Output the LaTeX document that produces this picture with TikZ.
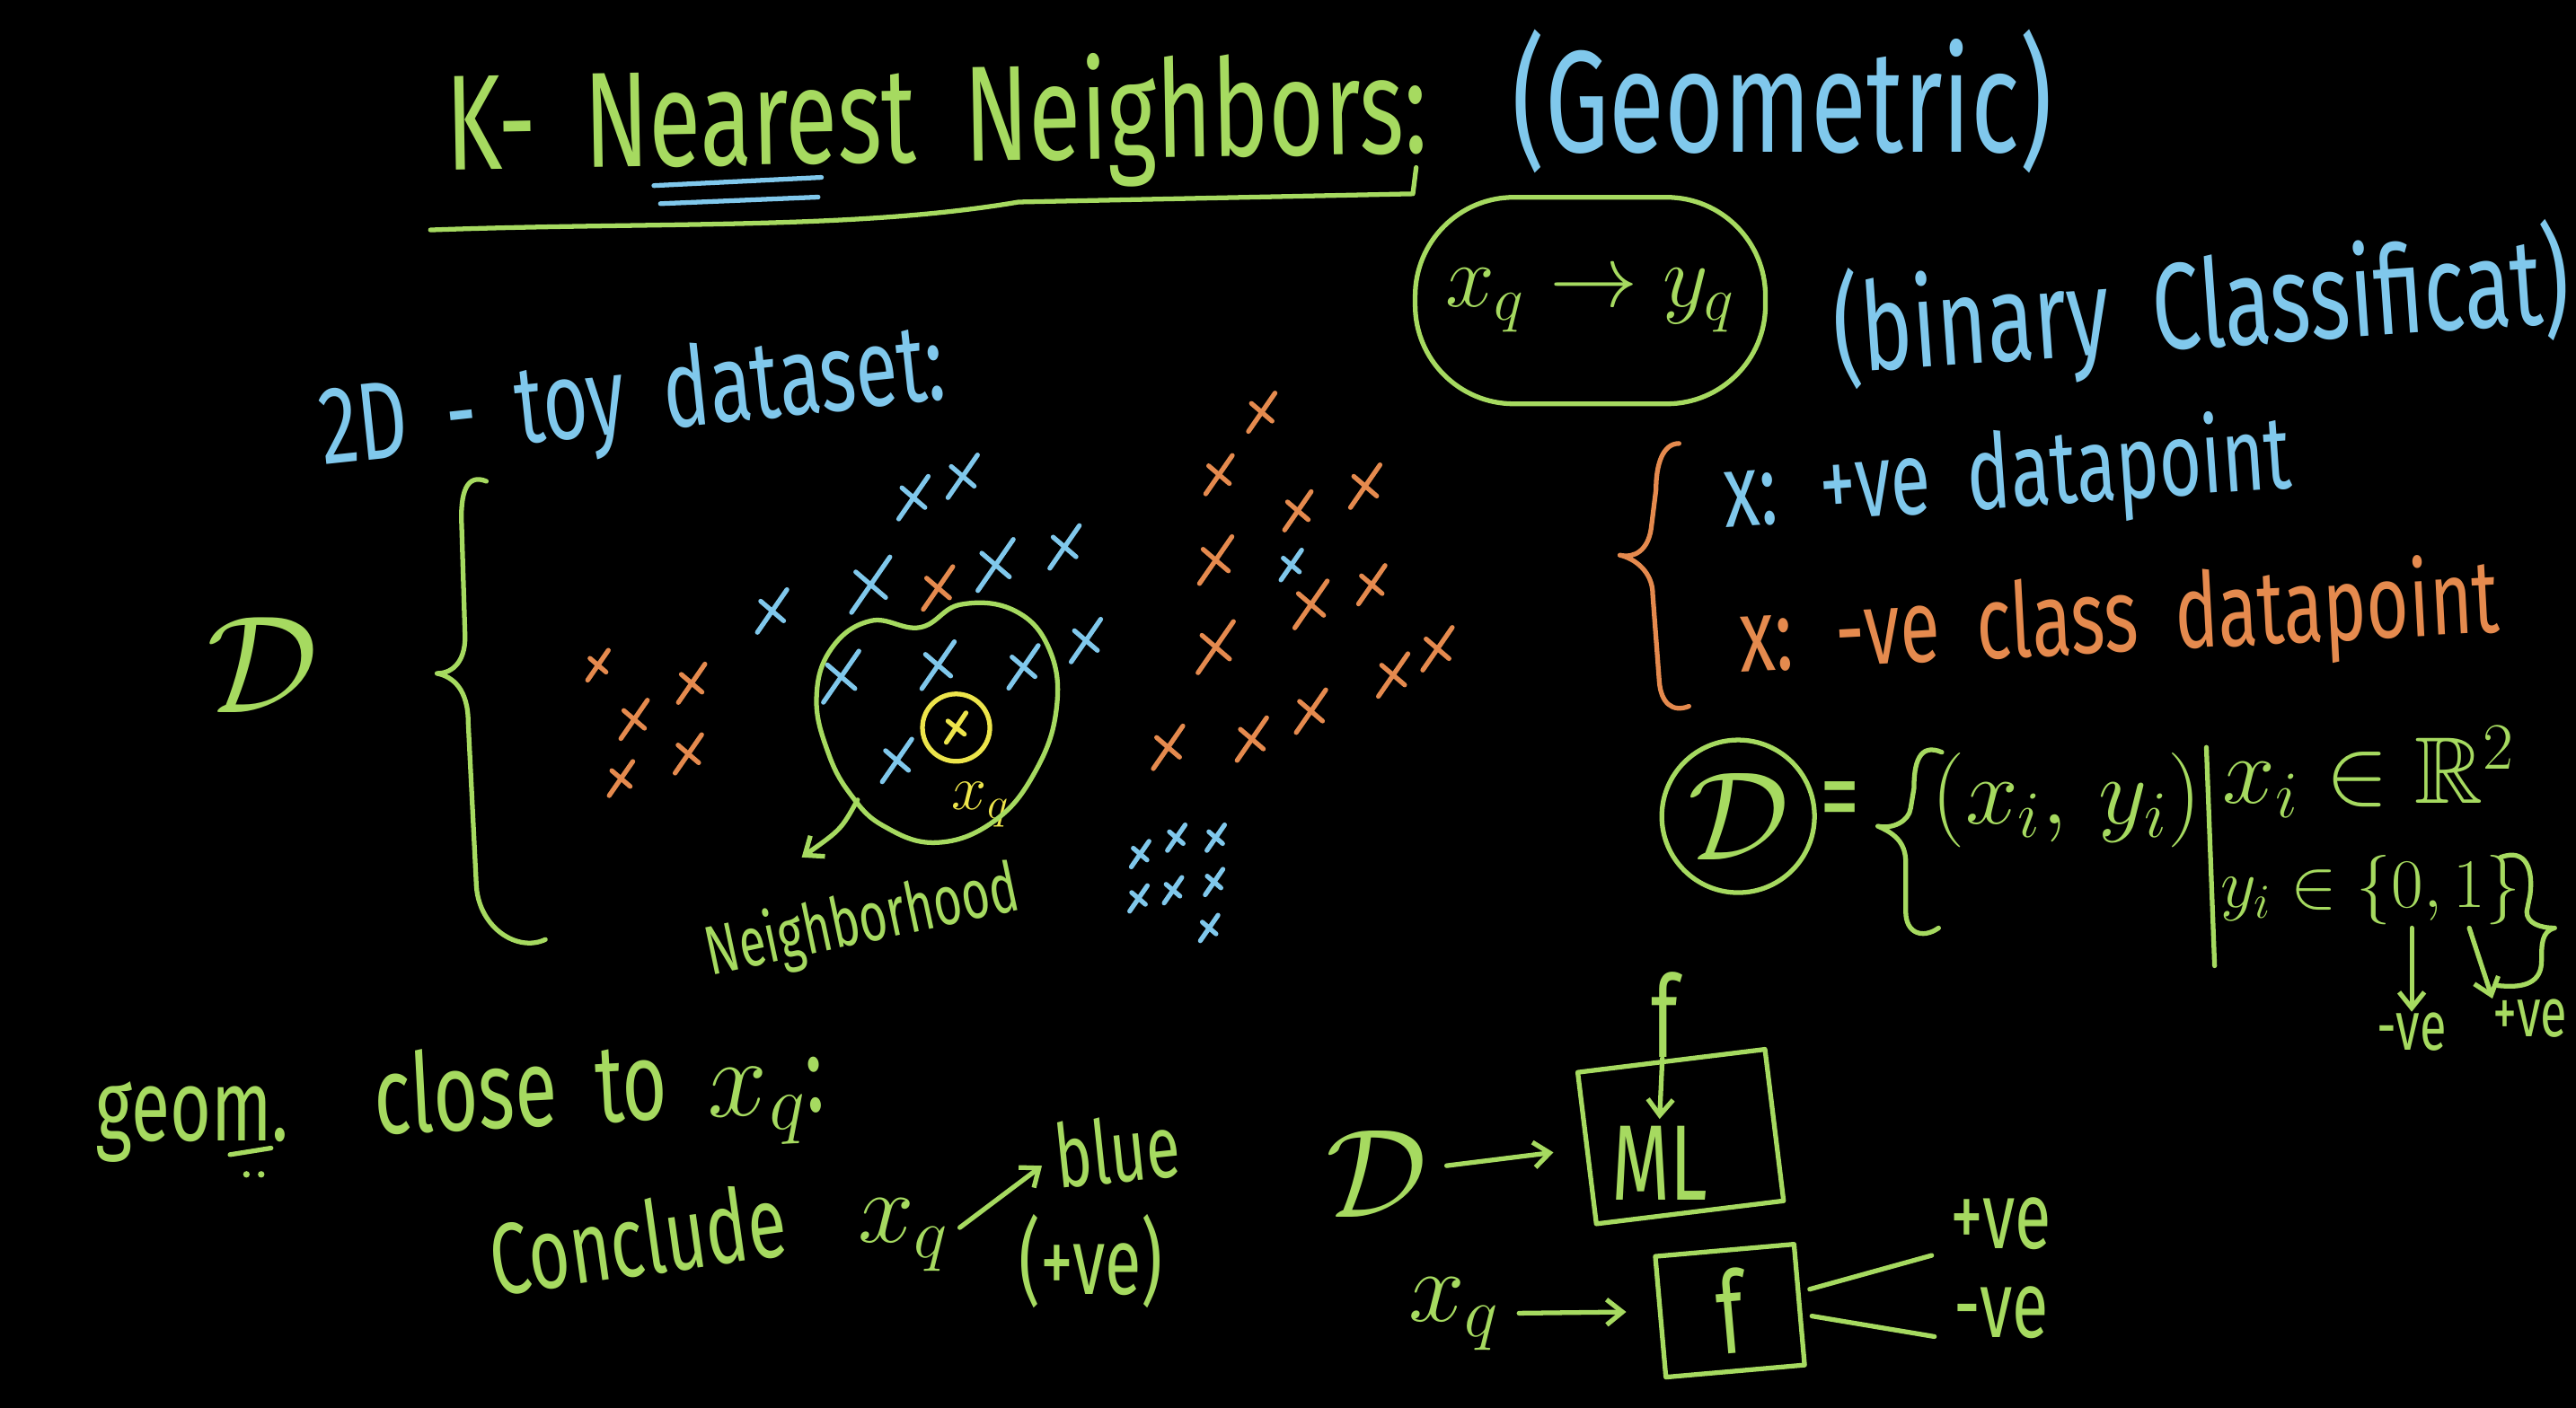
\RequirePackage{fix-cm}
\documentclass[tikz,border=0pt]{standalone}
\usepackage{fontspec}
\usepackage{amssymb}
\setmainfont{Fira Sans}[FakeStretch=0.7,WordSpace=1.9]
\usetikzlibrary{arrows.meta,positioning}
\definecolor{chalkgreen}{HTML}{A6DA60}
\definecolor{chalkblue}{HTML}{80C8EC}
\definecolor{chalkorange}{HTML}{E58A4E}
\definecolor{chalkyellow}{HTML}{EDE54B}

\begin{document}
\begin{tikzpicture}[x=0.18291mm,y=-0.18291mm,line cap=round,line join=round,
  >={Straight Barb[length=5pt,width=8pt]},
  hw/.style={inner sep=0pt,font=\fontsize{#1}{#1}\selectfont},
  grn/.style={text=chalkgreen},blu/.style={text=chalkblue},org/.style={text=chalkorange},
  gline/.style={draw=chalkgreen,line width=1.5pt},
  bline/.style={draw=chalkblue,line width=1.5pt},
  oline/.style={draw=chalkorange,line width=1.5pt},
  yline/.style={draw=chalkyellow,line width=1.5pt}]
\fill[black] (0,0) rectangle (1568,857);
\useasboundingbox (0,0) rectangle (1568,857);

% heading
\node[hw=43,grn,rotate=1] (title) at (570,75) {K- Nearest Neighbors:};
\node[hw=46,blu] (geomtr) at (1085,62) {(Geometric)};
\draw[bline] (398,113) -- (500,108) (402,124) -- (498,120);
\draw[gline] (262,140) .. controls (400,135) and (520,140) .. (620,123) -- (860,118) -- (862,102);
\node[gline,rounded corners=11mm,minimum width=39mm,minimum height=23mm,hw=28,grn] (query) at (968,183) {$x_q\rightarrow y_q$};
\node[hw=39,blu,rotate=4] (binary) at (1340,188) {(binary Classificat)};

% toy dataset
\node[hw=35,blu,rotate=6] (toy) at (385,245) {2D - toy dataset:};
\node[hw=44,grn] (dleft) at (160,405) {$\mathcal{D}$};
\draw[gline] (296,293) .. controls (284,288) and (280,300) .. (281,320) -- (283,385)
  .. controls (284,402) and (276,410) .. (266,410) .. controls (276,412) and (285,420) .. (285,440)
  -- (290,540) .. controls (292,565) and (315,580) .. (332,572);
\foreach \cx/\cy/\s in {556/303/1,586/290/1,470/372/1,530/356/1.3,606/344/1.2,648/333/1,661/390/1,
  623/406/1,571/405/1.1,512/412/1.2,546/463/1,786/344/.7,694/520/.6,716/510/.6,740/510/.6,
  693/547/.6,714/542/.6,739/537/.6,736/565/.6}
  \draw[bline] (\cx-9*\s,\cy+13*\s) -- (\cx+9*\s,\cy-13*\s) (\cx-7*\s,\cy-6*\s) -- (\cx+7*\s,\cy+6*\s);
\foreach \cx/\cy/\s in {768/251/.9,742/289/.9,790/311/.9,831/296/1,740/341/1.1,835/356/.9,798/368/1.1,
  740/394/1.2,875/395/1,848/411/1,798/433/1,762/450/1,711/455/1,571/358/1,364/405/.7,421/416/.9,
  386/438/.9,419/459/.9,378/474/.8}
  \draw[oline] (\cx-9*\s,\cy+13*\s) -- (\cx+9*\s,\cy-13*\s) (\cx-7*\s,\cy-6*\s) -- (\cx+7*\s,\cy+6*\s);

% query point and its neighborhood
\node[yline,circle,minimum size=7.5mm] (xqcirc) at (582,443) {};
\draw[yline] (582-6,443+9) -- (582+6,443-9) (582-5,443-4) -- (582+5,443+4);
\node[hw=20,text=chalkyellow] (xqlab) at (597,490) {$x_q$};
\draw[gline] plot[smooth cycle,tension=0.7] coordinates {(497,425) (506,395) (530,378) (560,382)
  (585,368) (618,372) (639,396) (643,432) (630,470) (605,500) (570,513) (538,503) (518,484) (504,458)};
\node[hw=22,grn,rotate=12] (nbh) at (525,562) {Neighborhood};
\coordinate (nbfrom) at (522,487);
\coordinate (nbto) at (488,522);
\draw[gline,->] (nbfrom) .. controls (512,505) .. (nbto);

% legend
\draw[oline] (1022,270) .. controls (1012,270) and (1008,283) .. (1008,298) -- (1005,322)
  .. controls (1003,335) and (995,340) .. (986,338) .. controls (995,340) and (1006,348) .. (1006,362)
  -- (1010,415) .. controls (1011,428) and (1018,434) .. (1028,430);
\node[hw=33,blu,rotate=4] (posleg) at (1222,291) {x: +ve datapoint};
\node[hw=33,org,rotate=3] (negleg) at (1290,379) {x: -ve class datapoint};

% dataset definition
\node[gline,circle,minimum size=17mm,hw=40,grn] (dset) at (1058,497) {$\mathcal{D}$};
\node[hw=36,grn] (eqs) at (1120,492) {=};
\draw[gline] (1182,458) .. controls (1168,452) and (1165,465) .. (1165,480) -- (1163,492)
  .. controls (1162,500) and (1152,505) .. (1143,503) .. controls (1152,507) and (1160,512) .. (1160,525)
  -- (1160,555) .. controls (1160,568) and (1170,572) .. (1180,565);
\node[hw=30,grn] (pairs) at (1258,487) {$(x_i,\,y_i)$};
\draw[gline] (1343,455) -- (1348,588);
\node[hw=30,grn] (xin) at (1442,470) {$x_i\in\mathbb{R}^2$};
\node[hw=22,grn] (yin) at (1443,542) {$y_i\in\{0,1\}$};
\draw[gline] (1522,522) .. controls (1538,516) and (1542,530) .. (1540,545) -- (1538,555)
  .. controls (1538,562) and (1546,565) .. (1555,565) .. controls (1547,567) and (1547,575) .. (1547,585)
  .. controls (1547,598) and (1537,602) .. (1520,600);
\coordinate (c0) at (1468,565);
\coordinate (c1) at (1503,565);
\node[hw=22,grn] (negv) at (1468,628) {-ve};
\node[hw=22,grn] (posv) at (1540,620) {+ve};
\draw[gline,->] (c0) -- (negv.north);
\draw[gline,->] (c1) -- (posv.north west);

% geometric intuition
\node[hw=32,grn] (geom) at (117,683) {geom.};
\draw[gline] (140,703) -- (165,699);
\fill[chalkgreen] (150,715) circle [radius=2] (159,715) circle [radius=2];
\node[hw=35,grn,rotate=3] (close) at (365,668) {close to $x_q$:};
\node[hw=32,grn,rotate=8] (concl) at (388,754) {Conclude};
\node[hw=32,grn] (xqc) at (550,752) {$x_q$};
\node[hw=28,grn,rotate=6] (blue) at (680,700) {blue};
\node[hw=30,grn] (pve) at (664,768) {(+ve)};
\draw[gline,->,shorten <=4pt,shorten >=5pt] (xqc.east) -- (blue.west);

% model pipeline
\node[hw=40,grn] (dml) at (838,715) {$\mathcal{D}$};
\node[gline,rotate=7,minimum width=21mm,minimum height=17mm] (mlbox) at (1023,692) {};
\node[hw=34,grn] (mltxt) at (1010,708) {ML};
\node[hw=36,grn] (ftop) at (1013,618) {f};
\node[hw=32,grn] (xqf) at (885,800) {$x_q$};
\node[gline,rotate=5,minimum width=15.5mm,minimum height=13.5mm,hw=36,grn] (fbox) at (1053,798) {f};
\node[hw=30,grn] (fpos) at (1218,745) {+ve};
\node[hw=30,grn,below=4mm of fpos] (fneg) {-ve};
\draw[gline,->,shorten <=6pt,shorten >=10pt] (dml) -- (mlbox);
\draw[gline,->,shorten >=2pt] (ftop) -- (mltxt.north);
\draw[gline,->,shorten <=6pt,shorten >=10pt] (xqf) -- (fbox);
\draw[gline,shorten <=3pt,shorten >=6pt] (fbox.10) -- (fpos.south west);
\draw[gline,shorten <=3pt,shorten >=6pt] (fbox.-8) -- (fneg.south west);
\end{tikzpicture}
\end{document}
